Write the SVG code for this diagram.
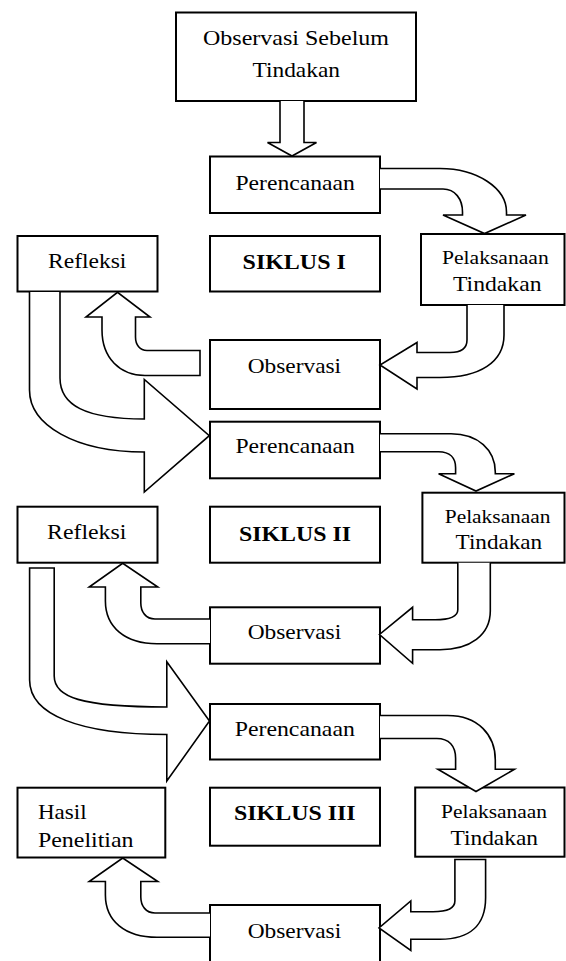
<svg xmlns="http://www.w3.org/2000/svg" width="566" height="961" viewBox="0 0 566 961">
<style>
.box{fill:#fff;stroke:#000;stroke-width:2}
.arr{fill:#fff;stroke:#000;stroke-width:1.6;stroke-linejoin:miter}
.t{font-family:"Liberation Serif","Times New Roman",serif;font-size:21px;fill:#000}
.p{font-size:19px}
.b{font-weight:bold}
</style>
<rect width="566" height="961" fill="#fff"/>
<g id="node-observasi-sebelum"><rect class="box" x="176" y="12.5" width="240" height="88.5"/>
<text class="t" x="203" y="45" textLength="186" lengthAdjust="spacingAndGlyphs">Observasi Sebelum</text>
<text class="t" x="252.5" y="77" textLength="87.5" lengthAdjust="spacingAndGlyphs">Tindakan</text></g>
<g id="node-perencanaan-1"><rect class="box" x="210" y="156.5" width="170" height="56.5"/>
<text class="t" x="235.4" y="190.3" textLength="119.5" lengthAdjust="spacingAndGlyphs">Perencanaan</text></g>
<g id="node-refleksi-1"><rect class="box" x="17.5" y="236" width="140" height="55.5"/>
<text class="t" x="48" y="268" textLength="78.4" lengthAdjust="spacingAndGlyphs">Refleksi</text></g>
<g id="node-siklus-1"><rect class="box" x="210" y="236" width="170" height="55.5"/>
<text class="t b" x="242.6" y="268.7" textLength="103.2" lengthAdjust="spacingAndGlyphs">SIKLUS I</text></g>
<g id="node-pelaksanaan-1"><rect class="box" x="421" y="234" width="143.5" height="71"/>
<text class="t p" x="442" y="263.7" textLength="106.7" lengthAdjust="spacingAndGlyphs">Pelaksanaan</text>
<text class="t" x="453" y="290.7" textLength="88.5" lengthAdjust="spacingAndGlyphs">Tindakan</text></g>
<g id="node-observasi-1"><rect class="box" x="210" y="340" width="170" height="69"/>
<text class="t" x="247.7" y="372.5" textLength="93.4" lengthAdjust="spacingAndGlyphs">Observasi</text></g>
<g id="node-perencanaan-2"><rect class="box" x="210" y="421.7" width="170" height="56.6"/>
<text class="t" x="235.4" y="452.7" textLength="119.5" lengthAdjust="spacingAndGlyphs">Perencanaan</text></g>
<g id="node-refleksi-2"><rect class="box" x="17.5" y="506.7" width="140" height="56"/>
<text class="t" x="47" y="539.3" textLength="79.4" lengthAdjust="spacingAndGlyphs">Refleksi</text></g>
<g id="node-siklus-2"><rect class="box" x="210" y="506.7" width="170" height="56"/>
<text class="t b" x="239" y="540.5" textLength="112" lengthAdjust="spacingAndGlyphs">SIKLUS II</text></g>
<g id="node-pelaksanaan-2"><rect class="box" x="422.4" y="492.7" width="142.1" height="70"/>
<text class="t p" x="444.8" y="522.5" textLength="105.7" lengthAdjust="spacingAndGlyphs">Pelaksanaan</text>
<text class="t" x="455.6" y="548.5" textLength="86.6" lengthAdjust="spacingAndGlyphs">Tindakan</text></g>
<g id="node-observasi-2"><rect class="box" x="210" y="607.3" width="170" height="56.4"/>
<text class="t" x="247.7" y="639" textLength="93.5" lengthAdjust="spacingAndGlyphs">Observasi</text></g>
<g id="node-perencanaan-3"><rect class="box" x="210" y="704" width="170" height="55.5"/>
<text class="t" x="234.7" y="736" textLength="120.2" lengthAdjust="spacingAndGlyphs">Perencanaan</text></g>
<g id="node-hasil-penelitian"><rect class="box" x="17.5" y="787.7" width="147.8" height="69.8"/>
<text class="t" x="37.9" y="819.3" textLength="48.7" lengthAdjust="spacingAndGlyphs">Hasil</text>
<text class="t" x="37.9" y="846.7" textLength="95.7" lengthAdjust="spacingAndGlyphs">Penelitian</text></g>
<g id="node-siklus-3"><rect class="box" x="210" y="787.7" width="170" height="58"/>
<text class="t b" x="234" y="820" textLength="121.6" lengthAdjust="spacingAndGlyphs">SIKLUS III</text></g>
<g id="node-pelaksanaan-3"><rect class="box" x="415.2" y="787.5" width="149.3" height="69.2"/>
<text class="t p" x="441" y="818.3" textLength="106" lengthAdjust="spacingAndGlyphs">Pelaksanaan</text>
<text class="t" x="450.5" y="844.7" textLength="87.5" lengthAdjust="spacingAndGlyphs">Tindakan</text></g>
<g id="node-observasi-3"><rect class="box" x="210" y="905" width="170" height="62"/>
<text class="t" x="247.7" y="937.7" textLength="93.5" lengthAdjust="spacingAndGlyphs">Observasi</text></g>
<g id="connectors">
<path class="arr" d="M280,101 V142.5 H267.5 L292,156 L316.5,142.5 H304 V101"/>
<path class="arr" d="M380,168.5 H440 C477,168.5 506.5,188 506.5,212 V215 H526 L484.5,233.5 L443,215 H462.5 V212 C462.5,199 455,189 443,189 H380"/>
<path class="arr" d="M467,305 V340 C467,348 461,352.5 450,352.5 H417 V342.5 L380,365 L417,389 V377.5 H440 C480,377.5 504,362 504,335 V305"/>
<path class="arr" d="M200,350.5 H147 C140,350.5 135.5,345 135.5,337 V317 H150 L117.5,292.3 L86,317 H102 V330 C102,358 120,375.5 145,375.5 H200 Z"/>
<path class="arr" d="M29.5,292 V390 C29.5,425 75,452 144.3,452 V492 L209.3,435.7 L144.3,379.5 V419 C85,419 60,405 60,378 V292"/>
<path class="arr" d="M380,433.7 H451 C478,433.7 495.3,450 495.3,472 V473.7 H514.4 L476,491 L438.6,473.7 H455.6 V467.7 C455.6,458 450,451.7 438.6,451.7 H380"/>
<path class="arr" d="M457.8,562.7 V609.7 C457.8,616 450,619.7 435,619.7 H412.6 V607.3 L379.5,634.5 L412.6,663.3 V649.7 H440 C470,649.7 490.3,635 490.3,611 V562.7"/>
<path class="arr" d="M210,619 H155 C146,619 140.8,612 140.8,603 V587 H157.8 L122.7,563.3 L89.2,587 H105.4 V601 C105.4,627 125,643.7 157,643.7 H210"/>
<path class="arr" d="M29.6,568 H54.2 V676 C54.2,697 80,707 166.8,707 V661.7 L209.5,721 L166.8,781 V734.5 C80,734.5 29.6,715 29.6,680 Z"/>
<path class="arr" d="M380,715.5 H447.7 C478,715.5 495.3,735 495.3,760 V769.3 H514.4 L476,791.5 L437.9,769.3 H455.6 V758.3 C455.6,746 449,738.5 436.8,738.5 H380"/>
<path class="arr" d="M454.9,859.5 H485.6 V897.7 C485.6,925 470,939.3 440,939.3 H410.8 V950.5 L379,928 L410.8,901 V911.7 H433 C447,911.7 454.9,908 454.9,901 Z"/>
<path class="arr" d="M210,913 H155 C146,913 140.8,906 140.8,897 V881.5 H157.8 L122.7,858 L89.2,881.5 H105.4 V895 C105.4,921 125,937.3 157,937.3 H210"/>
</g>
</svg>
